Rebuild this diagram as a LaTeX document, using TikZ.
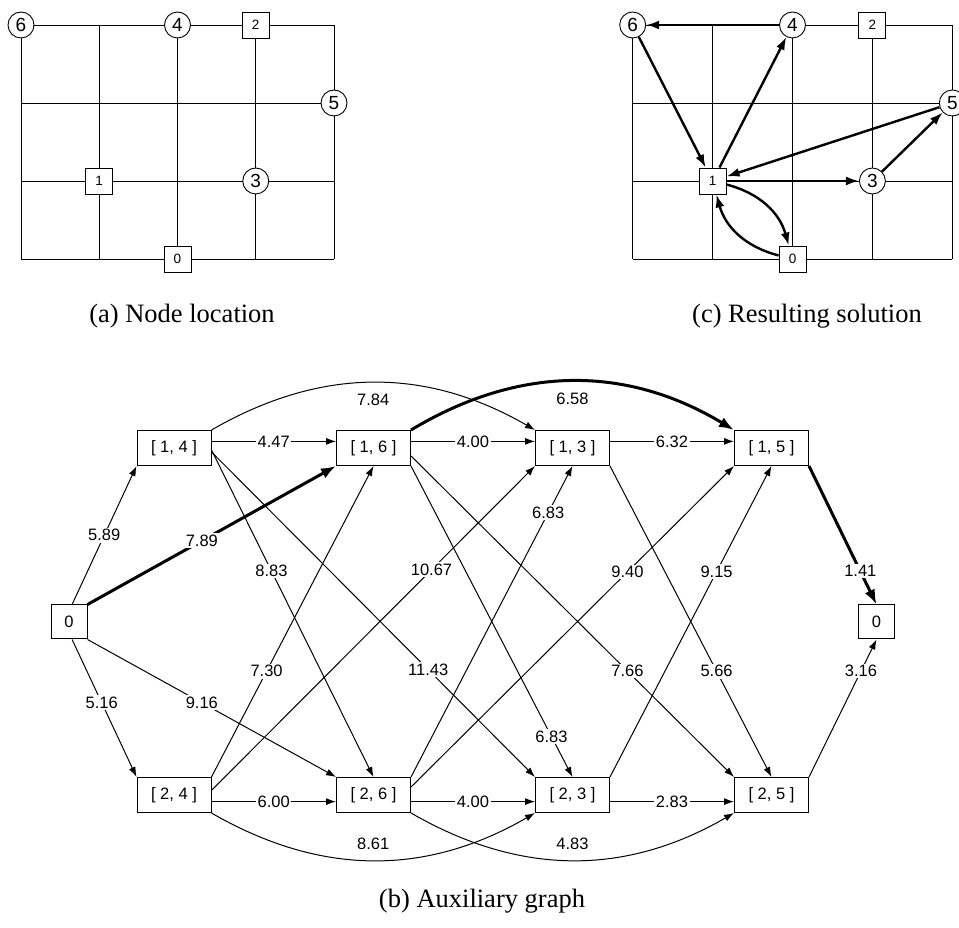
\documentclass[tikz,border=0pt]{standalone}
\usepackage{fontspec}
\setmainfont{Liberation Serif}
\setsansfont{Liberation Sans}
\usetikzlibrary{arrows.meta}

\begin{document}
\begin{tikzpicture}[x=1pt,y=1pt,
		gridline/.style={line width=0.9pt},
		site/.style={draw, circle, fill=white, minimum size=26pt, inner sep=0pt, line width=0.9pt, font=\sffamily\fontsize{19}{19}\selectfont},
		depot/.style={draw, rectangle, fill=white, minimum width=27pt, minimum height=26pt, inner sep=0pt, line width=0.9pt, font=\sffamily\fontsize{13.5}{13.5}\selectfont},
		pair/.style={draw, rectangle, fill=white, minimum width=74pt, minimum height=35pt, inner sep=0pt, line width=1pt, font=\sffamily\fontsize{16.5}{16.5}\selectfont},
		endbox/.style={pair, minimum width=36pt, minimum height=34pt},
		link/.style={line width=1pt, -{Latex[length=10pt,width=7pt]}},
		best/.style={line width=3pt, -{Latex[length=15pt,width=11pt]}},
		route/.style={line width=2.4pt, -{Latex[length=13pt,width=9pt]}},
		cost/.style={fill=white, inner sep=1.5pt, font=\sffamily\fontsize{16.5}{16.5}\selectfont},
		subcap/.style={font=\fontsize{26.5}{26.5}\selectfont}
	]
		\useasboundingbox (0,0) rectangle (959,927);
		% (a) node location
		\begin{scope}[shift={(21,668)}, x=78.25pt, y=78pt]
			\foreach \i in {0,...,4} \draw[gridline] (\i,0) -- (\i,3);
			\foreach \j in {0,...,3} \draw[gridline] (0,\j) -- (4,\j);
			\node[site] (a6) at (0,3) {6};
			\node[site] (a4) at (2,3) {4};
			\node[depot] (a2) at (3,3) {2};
			\node[site] (a5) at (4,2) {5};
			\node[depot] (a1) at (1,1) {1};
			\node[site] (a3) at (3,1) {3};
			\node[depot] (a0) at (2,0) {0};
		\end{scope}
		% (c) resulting solution
		\begin{scope}[shift={(632.7,668)}, x=79.9pt, y=78pt]
			\foreach \i in {0,...,4} \draw[gridline] (\i,0) -- (\i,3);
			\foreach \j in {0,...,3} \draw[gridline] (0,\j) -- (4,\j);
			\node[site] (c6) at (0,3) {6};
			\node[site] (c4) at (2,3) {4};
			\node[depot] (c2) at (3,3) {2};
			\node[site] (c5) at (4,2) {5};
			\node[depot] (c1) at (1,1) {1};
			\node[site] (c3) at (3,1) {3};
			\node[depot] (c0) at (2,0) {0};
		\end{scope}
		\draw[route] (c4) -- (c6);
		\draw[route] (c6) -- (c1);
		\draw[route] (c1) -- (c4);
		\draw[route] (c5) -- (c1);
		\draw[route] (c1) -- (c3);
		\draw[route] (c3) -- (c5);
		\draw[route] (c1) to[bend left=30] (c0);
		\draw[route] (c0) to[bend left=30] (c1);
		% (b) auxiliary graph
		\node[endbox] (src) at (69,305) {0};
		\node[pair] (n14) at (174,479) {[ 1, 4 ]};
		\node[pair] (n16) at (373.5,479) {[ 1, 6 ]};
		\node[pair] (n13) at (572.5,479) {[ 1, 3 ]};
		\node[pair] (n15) at (771.5,479) {[ 1, 5 ]};
		\node[pair] (n24) at (174,132) {[ 2, 4 ]};
		\node[pair] (n26) at (373.5,132) {[ 2, 6 ]};
		\node[pair] (n23) at (572.5,132) {[ 2, 3 ]};
		\node[pair] (n25) at (771.5,132) {[ 2, 5 ]};
		\node[endbox] (snk) at (876.5,305) {0};
		% out of the depot
		\draw[link] (src.80) -- node[cost, pos=0.5] {5.89} (n14.south west);
		\draw[best] (src.north east) -- node[cost, pos=0.46] {7.89} (n16.south west);
		\draw[link] (src.-80) -- node[cost, pos=0.46] {5.16} (n24.north west);
		\draw[link] (src.south east) -- node[cost, pos=0.46] {9.16} (n26.north west);
		% top row
		\draw[link] (n14.10) -- node[cost] {4.47} (n16.170);
		\draw[link] (n16.10) -- node[cost] {4.00} (n13.170);
		\draw[link] (n13.10) -- node[cost] {6.32} (n15.170);
		\draw[link] (n14.north east) to[bend left=30] node[cost, midway, below=9pt] {7.84} (n13.north west);
		\draw[best] (n16.north east) to[bend left=31] node[cost, midway, below=9pt] {6.58} (n15.north west);
		% bottom row
		\draw[link] (n24.-10) -- node[cost] {6.00} (n26.190);
		\draw[link] (n26.-10) -- node[cost] {4.00} (n23.190);
		\draw[link] (n23.-10) -- node[cost] {2.83} (n25.190);
		\draw[link] (n24.south east) to[bend right=30] node[cost, midway, above=9pt] {8.61} (n23.south west);
		\draw[link] (n26.south east) to[bend right=30] node[cost, midway, above=9pt] {4.83} (n25.south west);
		% top to bottom
		\draw[link] (n14.-3) -- node[cost, pos=0.37] {8.83} (n26.north);
		\draw[link] (n14.-6) -- node[cost, pos=0.67] {11.43} (n23.north west);
		\draw[link] (n16.south east) -- node[cost, pos=0.87] {6.83} (n23.north);
		\draw[link] (n16.-12) -- node[cost, pos=0.67] {7.66} (n25.north west);
		\draw[link] (n13.south east) -- node[cost, pos=0.66] {5.66} (n25.north);
		% bottom to top
		\draw[link] (n24.north east) -- node[cost, pos=0.34] {7.30} (n16.south);
		\draw[link] (n24.7) -- node[cost, pos=0.68] {10.67} (n13.south west);
		\draw[link] (n26.north east) -- node[cost, pos=0.85] {6.83} (n13.south);
		\draw[link] (n26.12) -- node[cost, pos=0.67] {9.40} (n15.south west);
		\draw[link] (n23.north east) -- node[cost, pos=0.66] {9.15} (n15.south);
		% into the depot
		\draw[best] (n15.south east) -- node[cost, pos=0.76] {1.41} (snk.north);
		\draw[link] (n25.north east) -- node[cost, pos=0.77] {3.16} (snk.south);
		% captions
		\node[subcap] (capa) at (182,611) {(a) Node location};
		\node[subcap] (capc) at (807,611) {(c) Resulting solution};
		\node[subcap] (capb) at (482,26) {(b) Auxiliary graph};
	\end{tikzpicture}
\end{document}
